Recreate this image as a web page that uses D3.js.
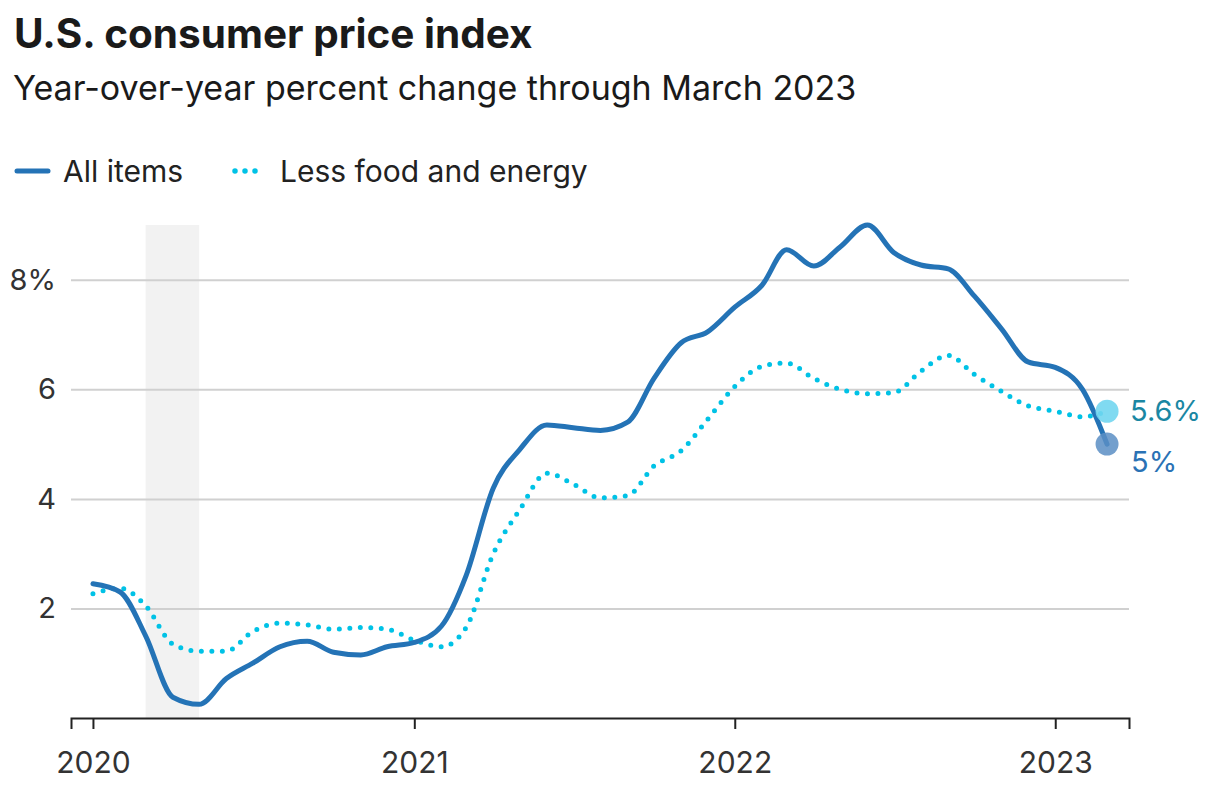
<!DOCTYPE html>
<html>
<head>
<meta charset="utf-8">
<script src="https://cdn.jsdelivr.net/npm/d3@7"></script>
<style>
  body { margin: 0; background: #fff; }
  text { font-family: Inter, "Noto Sans", sans-serif; }
</style>
</head>
<body>
<svg id="chart"></svg>
<script>
"use strict";

const months = [
  "2020-01", "2020-02", "2020-03", "2020-04", "2020-05", "2020-06",
  "2020-07", "2020-08", "2020-09", "2020-10", "2020-11", "2020-12",
  "2021-01", "2021-02", "2021-03", "2021-04", "2021-05", "2021-06",
  "2021-07", "2021-08", "2021-09", "2021-10", "2021-11", "2021-12",
  "2022-01", "2022-02", "2022-03", "2022-04", "2022-05", "2022-06",
  "2022-07", "2022-08", "2022-09", "2022-10", "2022-11", "2022-12",
  "2023-01", "2023-02", "2023-03"
];
const allItems = [
  2.45, 2.3, 1.5, 0.38, 0.25, 0.72, 1.0, 1.3, 1.4, 1.2, 1.15, 1.3,
  1.38, 1.68, 2.6, 4.2, 4.9, 5.35, 5.3, 5.25, 5.4, 6.2, 6.85, 7.05,
  7.5, 7.9, 8.55, 8.25, 8.6, 9.0, 8.5, 8.27, 8.2, 7.7, 7.1, 6.5,
  6.4, 6.0, 5.0
];
const lessFoodEnergy = [
  2.27, 2.37, 2.05, 1.35, 1.22, 1.22, 1.58, 1.73, 1.7, 1.62, 1.65, 1.62,
  1.42, 1.3, 1.65, 3.0, 3.8, 4.47, 4.27, 4.02, 4.06, 4.6, 4.88, 5.45,
  6.05, 6.42, 6.48, 6.2, 6.0, 5.92, 5.94, 6.33, 6.62, 6.27, 5.96, 5.7,
  5.6, 5.5, 5.6
];
const yTicks = [2, 4, 6, 8];
const xTicks = ["2020-01", "2021-01", "2022-01", "2023-01"];
const recession = ["2020-03", "2020-05"];
const seriesNames = ["All items", "Less food and energy"];
const endLabels = ["5%", "5.6%"];

const W = 1211, H = 799;
const parse = d3.timeParse("%Y-%m");
const blue = "#2473b6", cyan = "#00c2e6";

const chart = d3.select("#chart").attr("width", W).attr("height", H);

const x = d3.scaleTime()
  .domain([parse("2019-12").getTime() + 6 * 864e5, parse("2023-03").getTime() + 25 * 864e5])
  .range([71, 1129]);
const y = d3.scaleLinear().domain([0, 9]).range([718, 225]);

const rows = months.map((m, i) => ({ date: parse(m), all: allItems[i], core: lessFoodEnergy[i] }));

// titles
chart.append("text").attr("x", 14).attr("y", 48)
  .attr("font-size", 40.5).attr("font-weight", 700).attr("fill", "#1a1a1a")
  .text("U.S. consumer price index");
chart.append("text").attr("x", 13).attr("y", 100)
  .attr("font-size", 34).attr("fill", "#1a1a1a")
  .text("Year-over-year percent change through March 2023");

// legend
const leg = chart.append("g");
leg.append("line").attr("x1", 17).attr("x2", 48).attr("y1", 171).attr("y2", 171)
  .attr("stroke", blue).attr("stroke-width", 5).attr("stroke-linecap", "round");
leg.append("text").attr("x", 63).attr("y", 182).attr("font-size", 30).attr("fill", "#222")
  .text(seriesNames[0]);
leg.append("line").attr("x1", 235).attr("x2", 256).attr("y1", 171).attr("y2", 171)
  .attr("stroke", cyan).attr("stroke-width", 5.5).attr("stroke-linecap", "round")
  .attr("stroke-dasharray", "0 10");
leg.append("text").attr("x", 280).attr("y", 182).attr("font-size", 30).attr("fill", "#222")
  .text(seriesNames[1]);

// recession shade
chart.append("rect")
  .attr("x", x(parse(recession[0])))
  .attr("width", x(parse(recession[1])) - x(parse(recession[0])))
  .attr("y", y(9)).attr("height", y(0) - y(9))
  .attr("fill", "#f2f2f2");

// grid + y labels
const yAxis = chart.append("g").attr("transform", "translate(71,0)")
  .call(d3.axisRight(y).tickValues(yTicks).tickSize(1129 - 71)
    .tickFormat(d => d === 8 ? d + "%" : d));
yAxis.select(".domain").remove();
yAxis.selectAll(".tick line").attr("stroke", "#d0d0d0").attr("stroke-width", 2);
yAxis.selectAll(".tick text").attr("x", -15).attr("text-anchor", "end")
  .attr("font-size", 29).attr("fill", "#333").attr("font-family", "Inter");

// x axis
const xAxis = chart.append("g").attr("transform", `translate(0,${y(0)})`)
  .call(d3.axisBottom(x).tickValues(xTicks.map(parse)).tickSize(11).tickPadding(23)
    .tickFormat(d3.timeFormat("%Y")));
xAxis.select(".domain").attr("stroke", "#222").attr("stroke-width", 2);
xAxis.selectAll(".tick line").attr("stroke", "#222").attr("stroke-width", 2);
xAxis.selectAll(".tick text").attr("font-size", 30).attr("fill", "#333")
  .attr("font-family", "Inter");

// lines
const lineAll = d3.line().curve(d3.curveMonotoneX).x(d => x(d.date)).y(d => y(d.all));
const lineCore = d3.line().curve(d3.curveMonotoneX).x(d => x(d.date)).y(d => y(d.core));

chart.append("path").datum(rows).attr("d", lineCore)
  .attr("fill", "none").attr("stroke", cyan).attr("stroke-width", 5)
  .attr("stroke-linecap", "round").attr("stroke-dasharray", "0 10.5");
chart.append("path").datum(rows).attr("d", lineAll)
  .attr("fill", "none").attr("stroke", blue).attr("stroke-width", 5)
  .attr("stroke-linejoin", "round").attr("stroke-linecap", "round");

// end points
const last = rows[rows.length - 1];
chart.append("circle").attr("cx", x(last.date)).attr("cy", y(last.core)).attr("r", 11.5)
  .attr("fill", "#72d6ef").attr("opacity", 0.9);
chart.append("circle").attr("cx", x(last.date)).attr("cy", y(last.all)).attr("r", 11.5)
  .attr("fill", "#5a8ec4").attr("opacity", 0.85);
chart.append("text").attr("x", x(last.date) + 23).attr("y", y(last.core) + 10)
  .attr("font-size", 29).attr("fill", "#1a87a3").text(endLabels[1]);
chart.append("text").attr("x", x(last.date) + 24).attr("y", y(last.all) + 28)
  .attr("font-size", 29).attr("fill", "#2a72b5").text(endLabels[0]);
</script>
</body>
</html>
